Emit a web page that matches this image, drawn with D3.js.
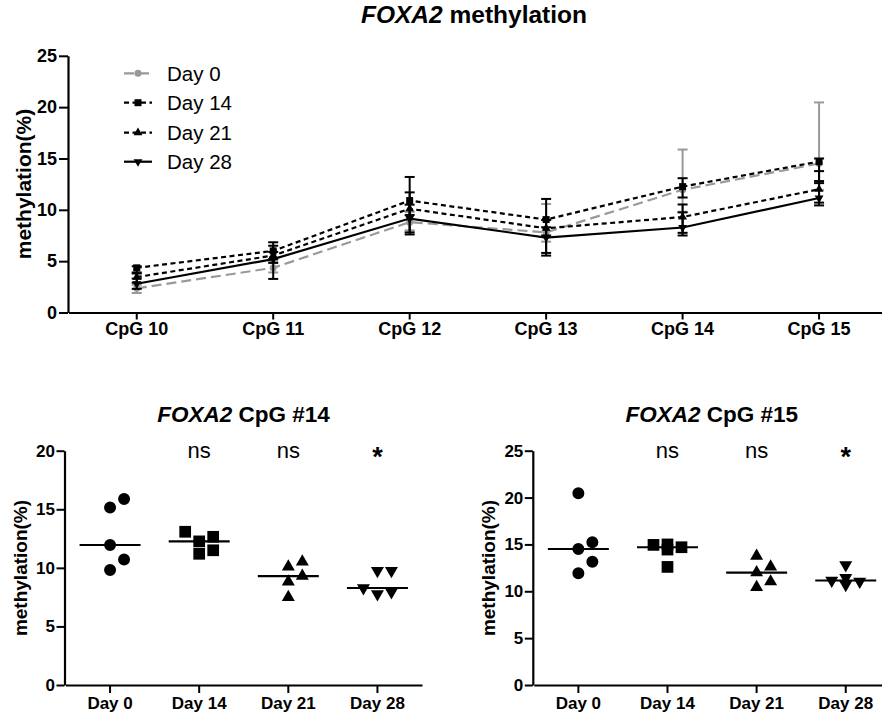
<!DOCTYPE html>
<html><head><meta charset="utf-8">
<script src="https://cdn.jsdelivr.net/npm/d3@7"></script>
<style>
body{margin:0;background:#fff}
text{font-family:"Liberation Sans",Arial,Helvetica,sans-serif;fill:#000}
</style>
</head><body>
<svg id="c" width="882" height="716"></svg>
<script>
// ---------------- DATA ----------------
const cpgSites = ["CpG 10", "CpG 11", "CpG 12", "CpG 13", "CpG 14", "CpG 15"];
const seriesNames = ["Day 0", "Day 14", "Day 21", "Day 28"];
const topTicks = [0, 5, 10, 15, 20, 25];

// median and range (min, max) per CpG site
const day0Median = [2.35, 4.35, 8.8, 7.8, 11.95, 14.51];
const day0Min    = [1.9, 3.9, 8.0, 6.9, 9.81, 11.92];
const day0Max    = [2.7, 5.0, 9.8, 10.57, 15.87, 20.46];
const day14Median = [4.35, 6.0, 10.9, 9.05, 12.26, 14.7];
const day14Min    = [3.9, 5.2, 9.5, 7.5, 11.2, 12.6];
const day14Max    = [4.5, 6.84, 13.2, 11.06, 13.08, 15.0];
const day21Median = [3.45, 5.55, 10.1, 8.2, 9.3, 12.0];
const day21Min    = [2.9, 4.83, 7.6, 5.54, 7.5, 10.43];
const day21Max    = [3.8, 6.5, 11.7, 9.0, 10.52, 13.77];
const day28Median = [2.8, 5.2, 9.15, 7.3, 8.28, 11.15];
const day28Min    = [2.3, 3.27, 7.8, 5.8, 7.76, 10.7];
const day28Max    = [3.3, 5.9, 10.5, 8.3, 9.75, 12.8];

// individual values
const groups = ["Day 0", "Day 14", "Day 21", "Day 28"];
const cpg14Day0  = [9.81, 10.72, 11.95, 15.16, 15.87];
const cpg14Day14 = [11.2, 11.5, 12.26, 12.65, 13.08];
const cpg14Day21 = [7.5, 8.81, 9.3, 10.09, 10.52];
const cpg14Day28 = [7.76, 7.93, 8.28, 9.75, 9.75];
const cpg15Day0  = [11.92, 13.16, 14.51, 15.23, 20.46];
const cpg15Day14 = [12.6, 14.45, 14.7, 14.95, 15.0];
const cpg15Day21 = [10.43, 11.03, 12.0, 12.63, 13.77];
const cpg15Day28 = [10.7, 11.05, 11.15, 11.45, 12.8];
const significance = ["", "ns", "ns", "*"];
const cpg14Ticks = [0, 5, 10, 15, 20];
const cpg15Ticks = [0, 5, 10, 15, 20, 25];

// ---------------- DRAW ----------------
const svg = d3.select("#c");
const FONT = '"Liberation Sans",Arial,Helvetica,sans-serif';

const styles = [
  {color: "#999999", dash: "10,5", sym: d3.symbolCircle, size: 40, rot: 0},
  {color: "#000000", dash: "5,3.5", sym: d3.symbolSquare, size: 49, rot: 0},
  {color: "#000000", dash: "5,3.5", sym: d3.symbolTriangle, size: 34, rot: 0},
  {color: "#000000", dash: null, sym: d3.symbolTriangle, size: 34, rot: 180}
];
const topSeries = [
  {med: day0Median, lo: day0Min, hi: day0Max},
  {med: day14Median, lo: day14Min, hi: day14Max},
  {med: day21Median, lo: day21Min, hi: day21Max},
  {med: day28Median, lo: day28Min, hi: day28Max}
];

// --- top chart ---
const xTop = d3.scaleBand().domain(cpgSites).range([68.5, 887.3]);
const yTop = d3.scaleLinear().domain([0, 25]).range([312.5, 55.8]);
const cx = d => xTop(d) + xTop.bandwidth() / 2;

svg.append("text").attr("x", 474).attr("y", 23).attr("text-anchor", "middle")
  .style("font-size", "24.5px").style("font-weight", "bold")
  .html('<tspan font-style="italic">FOXA2</tspan> methylation');

const gyT = svg.append("g").attr("transform", "translate(68,0)")
  .call(d3.axisLeft(yTop).tickValues(topTicks).tickSize(9).tickSizeOuter(0).tickPadding(2));
const gxT = svg.append("g").attr("transform", "translate(0,312.5)")
  .call(d3.axisBottom(xTop).tickSize(7).tickSizeOuter(0).tickPadding(3));
[gyT, gxT].forEach(g => {
  g.select(".domain").attr("stroke", "#000").attr("stroke-width", 2.2);
  g.selectAll(".tick line").attr("stroke", "#000").attr("stroke-width", 2);
  g.selectAll("text").style("font-family", FONT).style("font-weight", "bold").style("font-size", "18px").attr("fill", "#000");
});
svg.append("text").attr("transform", "translate(24,184) rotate(-90)").attr("text-anchor", "middle")
  .attr("dy", "0.35em").style("font-size", "21px").style("font-weight", "bold").text("methylation(%)");

topSeries.forEach((s, i) => {
  const st = styles[i];
  const g = svg.append("g");
  const line = d3.line().x((d, j) => cx(cpgSites[j])).y(d => yTop(d));
  g.append("path").attr("d", line(s.med)).attr("fill", "none").attr("stroke", st.color)
    .attr("stroke-width", 2.2).attr("stroke-dasharray", st.dash);
  cpgSites.forEach((c, j) => {
    const x = cx(c);
    g.append("line").attr("x1", x).attr("x2", x).attr("y1", yTop(s.lo[j])).attr("y2", yTop(s.hi[j]))
      .attr("stroke", st.color).attr("stroke-width", 2);
    [s.lo[j], s.hi[j]].forEach(v => g.append("line").attr("x1", x - 5).attr("x2", x + 5)
      .attr("y1", yTop(v)).attr("y2", yTop(v)).attr("stroke", st.color).attr("stroke-width", 2));
    g.append("path").attr("d", d3.symbol().type(st.sym).size(st.size)())
      .attr("transform", `translate(${x},${yTop(s.med[j])}) rotate(${st.rot})`).attr("fill", st.color);
  });
});

// legend
const legY = [73.3, 102.7, 132.7, 161.7];
seriesNames.forEach((n, i) => {
  const st = styles[i];
  const y = legY[i];
  svg.append("line").attr("x1", 124).attr("x2", 152).attr("y1", y).attr("y2", y)
    .attr("stroke", st.color).attr("stroke-width", 2.2).attr("stroke-dasharray", st.dash);
  svg.append("path").attr("d", d3.symbol().type(st.sym).size(st.size)())
    .attr("transform", `translate(138,${y}) rotate(${st.rot})`).attr("fill", st.color);
  svg.append("text").attr("x", 167).attr("y", y).attr("dy", "0.36em")
    .style("font-size", "20.5px").text(n);
});

// --- scatter charts ---
const scatterSym = [
  {sym: d3.symbolCircle, size: 113, rot: 0},
  {sym: d3.symbolSquare, size: 137, rot: 0},
  {sym: d3.symbolTriangle, size: 73, rot: 0},
  {sym: d3.symbolTriangle, size: 73, rot: 180}
];

function dodge(values, y) {
  const sorted = values.map(v => v).sort(d3.ascending);
  const placed = [];
  const slots = [0, 1, -1];
  const T = 12;
  sorted.forEach(v => {
    const py = y(v);
    let best = null, bestD = -1;
    for (const s of slots) {
      const ds = placed.filter(p => p.slot === s).map(p => Math.abs(p.py - py));
      const m = ds.length ? d3.min(ds) : Infinity;
      if (m >= T) { best = s; break; }
      if (m > bestD) { bestD = m; best = s; }
    }
    placed.push({v, py, slot: best});
  });
  return placed;
}

function scatter(opt) {
  const x = d3.scaleBand().domain(groups).range([opt.x0 + 1, opt.x0 + 357.5]);
  const y = d3.scaleLinear().domain([0, d3.max(opt.ticks)]).range([685, 450.7]);
  const gx = svg.append("g").attr("transform", "translate(0,685)")
    .call(d3.axisBottom(x).tickSize(8).tickSizeOuter(0).tickPadding(4));
  const gy = svg.append("g").attr("transform", `translate(${opt.x0},0)`)
    .call(d3.axisLeft(y).tickValues(opt.ticks).tickSize(8).tickSizeOuter(0).tickPadding(1.5));
  [gx, gy].forEach(g => {
    g.select(".domain").attr("stroke", "#000").attr("stroke-width", 2.2);
    g.selectAll(".tick line").attr("stroke", "#000").attr("stroke-width", 2);
    g.selectAll("text").style("font-family", FONT).style("font-weight", "bold").style("font-size", "17px").attr("fill", "#000");
  });
  svg.append("text").attr("transform", `translate(${opt.x0 - 44},568) rotate(-90)`).attr("text-anchor", "middle")
    .attr("dy", "0.35em").style("font-size", "19px").style("font-weight", "bold").text("methylation(%)");
  svg.append("text").attr("x", opt.x0 + 179).attr("y", 421.5).attr("text-anchor", "middle")
    .style("font-size", "22.5px").style("font-weight", "bold")
    .html(`<tspan font-style="italic">FOXA2</tspan> CpG #${opt.site}`);
  opt.data.forEach((vals, i) => {
    const c = x(groups[i]) + x.bandwidth() / 2;
    const med = d3.median(vals);
    svg.append("line").attr("x1", c - 30.5).attr("x2", c + 30.5).attr("y1", y(med)).attr("y2", y(med))
      .attr("stroke", "#000").attr("stroke-width", 2.2);
    const ss = scatterSym[i];
    dodge(vals, y).forEach(p => {
      svg.append("path").attr("d", d3.symbol().type(ss.sym).size(ss.size)())
        .attr("transform", `translate(${c + p.slot * 14},${p.py}) rotate(${ss.rot})`).attr("fill", "#000");
    });
    if (significance[i]) {
      const star = significance[i] === "*";
      svg.append("text").attr("x", c).attr("y", star ? 466 : 457.5).attr("text-anchor", "middle")
        .style("font-size", star ? "27px" : "22px")
        .style("font-weight", star ? "bold" : "normal")
        .text(significance[i]);
    }
  });
}

scatter({x0: 64.5, ticks: cpg14Ticks, site: 14, data: [cpg14Day0, cpg14Day14, cpg14Day21, cpg14Day28]});
scatter({x0: 532.8, ticks: cpg15Ticks, site: 15, data: [cpg15Day0, cpg15Day14, cpg15Day21, cpg15Day28]});
</script>
</body></html>
